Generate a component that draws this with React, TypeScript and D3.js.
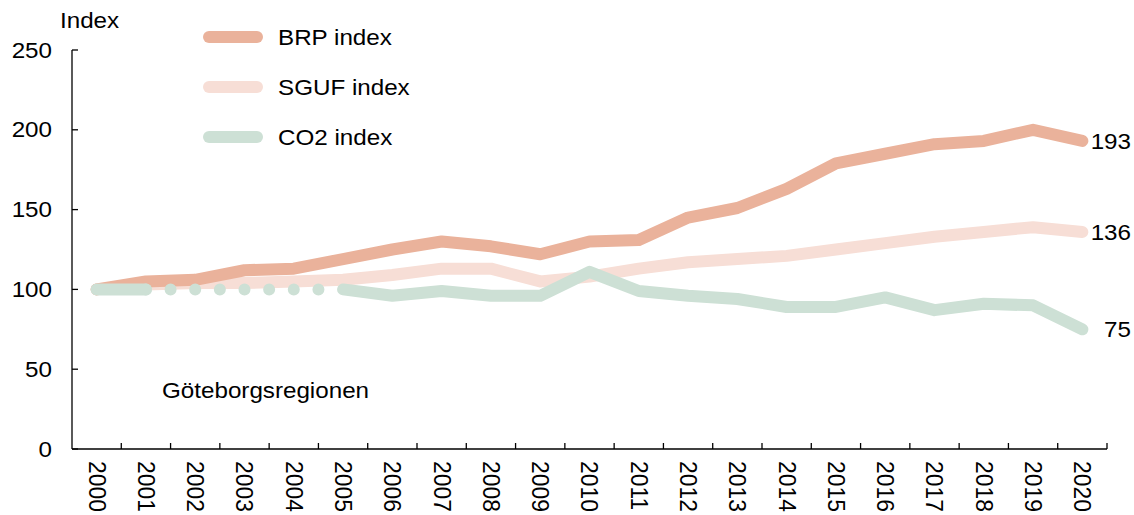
import React from "react";
import * as d3 from "d3";

const years = ["2000","2001","2002","2003","2004","2005","2006","2007","2008","2009","2010","2011","2012","2013","2014","2015","2016","2017","2018","2019","2020"];
const brp = [100,105,106,112,113,119,125,130,127,122,130,131,145,151,163,179,185,191,193,200,193];
const sguf = [100,103,104,104,105,106,109,113,113,105,108,113,117,119,121,125,129,133,136,139,136];
const co2 = [100,100,100,100,100,100,96,99,96,96,111,99,96,94,89,89,95,87,91,90,75];
// CO2 years with no data (drawn dotted between 2001 and 2005)
const co2GapStart = 1;
const co2GapEnd = 5;
const yTicks = [0,50,100,150,200,250];
const seriesNames = ["BRP index","SGUF index","CO2 index"];
const colors = ["#eab29b","#f7ded6","#cde0d5"];
const endLabels = ["193","136","75"];
const regionLabel = "Göteborgsregionen";
const yTitle = "Index";

const SX = 1.1;

function T(props: { x: number; y: number; anchor?: "start" | "end" | "middle"; children: React.ReactNode; baseline?: string }) {
  return (
    <text
      transform={`translate(${props.x},${props.y}) scale(${SX},1)`}
      textAnchor={props.anchor || "start"}
      dominantBaseline={props.baseline || "central"}
      fontSize={22}
    >
      {props.children}
    </text>
  );
}

export default function App() {
  const W = 1134, H = 515;
  const left = 72, right = 1107, top = 50, bottom = 449;
  const x = d3.scaleBand<string>().domain(years).range([left, right]);
  const cx = (i: number) => (x(years[i]) as number) + x.bandwidth() / 2;
  const y = d3.scaleLinear().domain([0, 250]).range([bottom, top]);
  const line = d3.line<[number, number]>().x(d => d[0]).y(d => d[1]);
  const pts = (arr: number[], from = 0, to = arr.length - 1) =>
    arr.slice(from, to + 1).map((v, k) => [cx(from + k), y(v)] as [number, number]);
  const font = "Liberation Sans, Arial, sans-serif";
  const sw = 12;
  const common = { fill: "none", strokeWidth: sw, strokeLinecap: "round" as const, strokeLinejoin: "round" as const };
  const gap = cx(1) - cx(0);

  return (
    <svg width={W} height={H} style={{ position: "absolute", left: 0, top: 0 }} fontFamily={font}>
      {/* axes */}
      <line x1={left} x2={left} y1={top} y2={bottom} stroke="#000" strokeWidth={1.3} />
      <line x1={left} x2={right} y1={bottom} y2={bottom} stroke="#000" strokeWidth={1.3} />
      {yTicks.map(t => (
        <g key={t}>
          <line x1={left} x2={left + 6} y1={y(t)} y2={y(t)} stroke="#000" strokeWidth={1.3} />
          <T x={52} y={y(t)} anchor="end">{t}</T>
        </g>
      ))}
      {years.map((yr, i) => (
        <g key={yr}>
          {i > 0 && <line x1={x(yr) as number} x2={x(yr) as number} y1={bottom} y2={bottom - 6} stroke="#000" strokeWidth={1.3} />}
          <text transform={`translate(${cx(i)},${bottom + 12}) rotate(90) scale(1.04,1.05)`} dominantBaseline="central" fontSize={22}>{yr}</text>
        </g>
      ))}
      <line x1={right} x2={right} y1={bottom} y2={bottom - 6} stroke="#000" strokeWidth={1.3} />
      <T x={60} y={28} baseline="auto">{yTitle}</T>

      {/* series */}
      <path d={line(pts(sguf)) as string} stroke={colors[1]} {...common} />
      <path d={line(pts(brp)) as string} stroke={colors[0]} {...common} />
      <path d={line(pts(co2, 0, co2GapStart)) as string} stroke={colors[2]} {...common} />
      <path d={line(pts(co2, co2GapStart, co2GapEnd)) as string} stroke={colors[2]} {...common} strokeDasharray={`0 ${gap / 2}`} />
      <path d={line(pts(co2, co2GapEnd)) as string} stroke={colors[2]} {...common} />

      {/* end labels */}
      {[brp, sguf, co2].map((arr, k) => (
        <T key={k} x={1131} y={y(arr[arr.length - 1])} anchor="end">{endLabels[k]}</T>
      ))}

      {/* legend */}
      {seriesNames.map((n, k) => (
        <g key={n}>
          <line x1={209} x2={257} y1={37 + k * 50} y2={37 + k * 50} stroke={colors[k]} strokeWidth={sw} strokeLinecap="round" />
          <T x={278} y={37 + k * 50}>{n}</T>
        </g>
      ))}
      <T x={162} y={390}>{regionLabel}</T>
    </svg>
  );
}
